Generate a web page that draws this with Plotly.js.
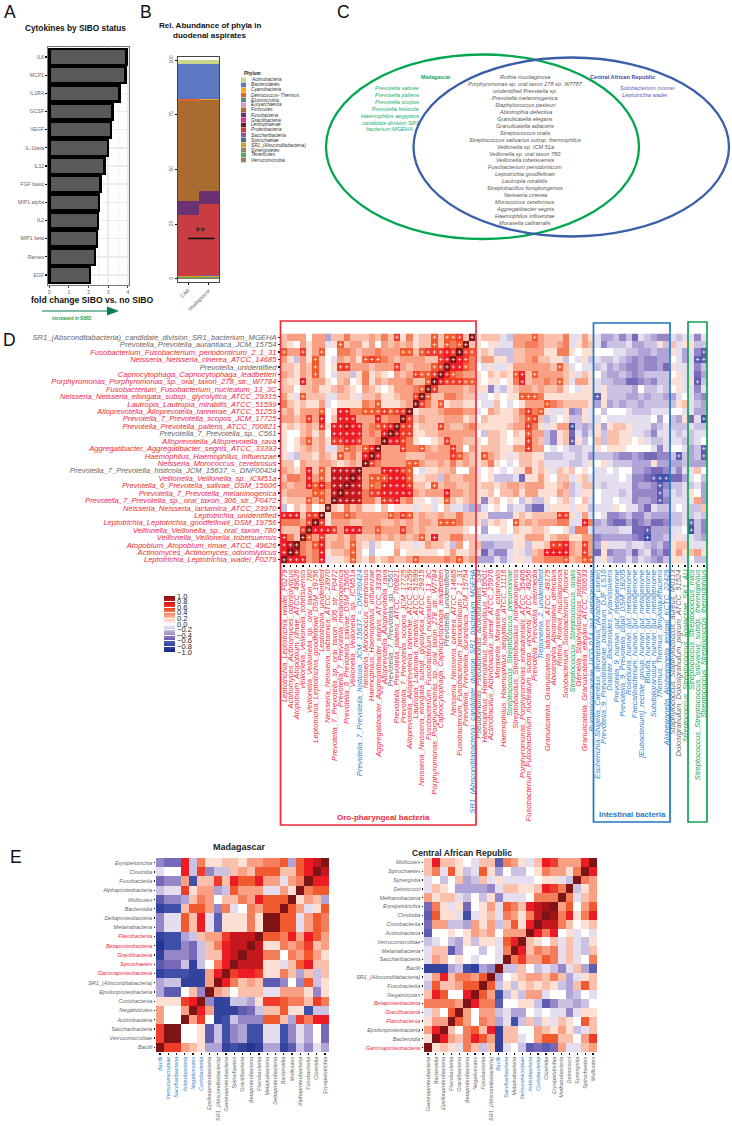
<!DOCTYPE html>
<html><head><meta charset="utf-8">
<script src="https://cdn.plot.ly/plotly-3.0.1.min.js"></script>
<style>html,body{margin:0;padding:0;background:#fff}#c{width:732px;height:1127px}</style></head>
<body><div id="c"></div>
<script>
// ---------- Panel A
const cytokines=['IL6','MCP1','IL1RA','GCSF','VEGF','IL-1beta','IL12','FGF basic','MIP1 alpha','IL2','MIP1 beta','Rantes','EGF'];
const foldChange=[3.93,3.88,3.58,3.22,3.15,3.0,2.82,2.6,2.53,2.47,2.42,2.33,2.08];
// ---------- Panel B
const phyla=['Actinobacteria','Bacteroidetes','Cyanobacteria','Deinococcus−Thermus','Elusimicrobia','Euryarchaeota','Firmicutes','Fusobacteria','Gracilibacteria','Lentisphaerae','Proteobacteria','Saccharibacteria','Spirochaetae','SR1_(Absconditabacteria)','Synergistetes','Tenericutes','Verrucomicrobia'];
const phylaColors=['#c9d68b','#5b79c2','#f7a823','#e8602a','#4c9080','#cf9fca','#a96b30','#6b3172','#e0338e','#6b2020','#c93c42','#7f5bb0','#4f6d92','#d9a227','#8a8a60','#55a860','#9a8060'];
const abundCAR=[2.0,15.9,0.1,0.6,0,0,45.6,6.6,0,0,27.7,0.2,0.1,0.2,0.3,0.3,0.4];
const abundMad=[1.8,16.2,0.1,0.1,0,0,41.7,6.0,0,0,32.5,0.2,0.1,0.2,0.3,0.3,0.5];
const siteNames=['CAR','Madagascar'];
// ---------- Panel C
const vennBoth=['Rothia mucilaginosa','Porphyromonas sp. oral taxon 278 str. W7787','unidentified Prevotella sp.','Prevotella melaninogenica','Staphylococcus pasteuri','Abiotrophia defectiva','Granulicatella elegans','Granulicatella adiacens','Streptococcus oralis','Streptococcus salivarius subsp. thermophilus','Veillonella sp. ICM 51a','Veillonella sp. oral taxon 780','Veillonella tobetsuensis','Fusobacterium periodonticum','Leptotrichia goodfellowii','Lautropia mirabilis','Streptobacillus hongkongensis','Neisseria cinerea','Morococcus cerebrosus','Aggregatibacter segnis','Haemophilus influenzae','Moraxella catharralis'];
const vennMad=['Prevotella salivae','Prevotella pallens','Prevotella scopos','Prevotella histicola','Haemophilus aegyptius','candidate division SR1','bacterium MGEHA'];
const vennCar=['Solobacterium moorei','Leptotrichia wadei'];
// ---------- Panel D
const rowLabelsD=['SR1_(Absconditabacteria)_candidate_division_SR1_bacterium_MGEHA','Prevotella_Prevotella_aurantiaca_JCM_15754','Fusobacterium_Fusobacterium_periodonticum_2_1_31','Neisseria_Neisseria_cinerea_ATCC_14685','Prevotella_unidentified','Capnocytophaga_Capnocytophaga_leadbetteri','Porphyromonas_Porphyromonas_sp._oral_taxon_278_str._W7784','Fusobacterium_Fusobacterium_nucleatum_13_3C','Neisseria_Neisseria_elongata_subsp._glycolytica_ATCC_29315','Lautropia_Lautropia_mirabilis_ATCC_51599','Alloprevotella_Alloprevotella_tannerae_ATCC_51259','Prevotella_7_Prevotella_scopos_JCM_17725','Prevotella_Prevotella_pallens_ATCC_700821','Prevotella_7_Prevotella_sp._C561','Alloprevotella_Alloprevotella_rava','Aggregatibacter_Aggregatibacter_segnis_ATCC_33393','Haemophilus_Haemophilus_influenzae','Neisseria_Morococcus_cerebrosus','Prevotella_7_Prevotella_histicola_JCM_15637_=_DNF00424','Veillonella_Veillonella_sp._ICM51a','Prevotella_6_Prevotella_salivae_DSM_15606','Prevotella_7_Prevotella_melaninogenica','Prevotella_7_Prevotella_sp._oral_taxon_306_str._F0472','Neisseria_Neisseria_lactamica_ATCC_23970','Leptotrichia_unidentified','Leptotrichia_Leptotrichia_goodfellowii_DSM_19756','Veillonella_Veillonella_sp._oral_taxon_780','Veillonella_Veillonella_tobetsuensis','Atopobium_Atopobium_rimae_ATCC_49626','Actinomyces_Actinomyces_odontolyticus','Leptotrichia_Leptotrichia_wadei_F0279'];
const rowGroupD=['k','k','r','r','k','r','r','r','r','r','r','r','r','k','r','r','r','r','k','r','r','r','r','r','r','r','r','r','r','r','r'];
const colLabelsExtra=['Pseudomonas_Pseudomonas_azotoformans_S34','Haemophilus_Haemophilus_haemolyticus_M19501','Actinobacillus_Actinobacillus_ureae_ATCC_25976','Moraxella_Moraxella_catarrhalis','Haemophilus_Haemophilus_aegyptius_ATCC_11116','Streptococcus_Streptococcus_pneumoniae','Streptobacillus_Streptobacillus_hongkongensis','Porphyromonas_Porphyromonas_endodontalis_ATCC_35406','Fusobacterium_Fusobacterium_nucleatum_subsp._vincentii_ATCC_49256','Prevotella_Prevotella_intermedia','Treponema_2_unidentified','Granulicatella_Granulicatella_adiacens_ATCC_49175','Abiotrophia_Abiotrophia_defectiva','Rothia_Rothia_mucilaginosa','Solobacterium_Solobacterium_moorei','Streptococcus_Streptococcus_oralis','Gemella_Staphylococcus_pasteuri','Granulicatella_Granulicatella_elegans_ATCC_700633','Ruminococcaceae_UCG-014_gut_metagenome','Escherichia-Shigella_Camelus_dromedarius_(Arabian_camel)','Prevotella_9_Prevotellaceae_bacterium_DJF_LS10','Dialister_Bacteroides_xylanisolvens','Prevotella_9_human_gut_metagenome','Prevotella_9_Prevotella_copri_DSM_18205','Roseburia_human_gut_metagenome','Faecalibacterium_human_gut_metagenome','[Eubacterium]_rectale_group_human_gut_metagenome','Blautia_human_gut_metagenome','Subdoligranulum_human_gut_metagenome','Thermus_Thermus_amyloliquefaciens','Alishewanella_Alishewanella_jeotgali_KCTC_22429','Staphylococcus_Staphylococcus_aureus_M0113','Dolosigranulum_Dolosigranulum_pigrum_ATCC_51524','Streptococcus_Streptococcus_agalactiae_SK1_AU','Streptococcus_Streptococcus_mitis','Streptococcus_Streptococcus_salivarius_subsp._thermophilus','Streptococcus_Streptococcus_thermophilus'];
const colGroupExtra=['k','r','r','r','r','g','r','r','r','r','b','r','r','r','r','g','r','r','b','b','b','b','b','b','b','b','b','b','b','b','b','k','k','g','g','g','g'];
const oralColGroup=['r','r','r','r','r','r','r','r','r','r','r','r','b','r','r','r','r','k','r','r','r','r','r','r','r','r','k','r','r','r','b'];
const heatOral=[
[2,3,3,3,0,3,3,-3,2,2,4,2,2,2,3,2,4,2,6,1,4,1,2,2,5,2,5,5,6,2,10],
[2,1,0,3,1,3,3,-1,1,5,2,3,3,1,3,0,3,2,3,2,3,1,2,2,5,2,5,4,5,10,2],
[5,3,3,6,1,3,5,0,0,4,4,3,2,3,3,4,3,3,3,5,5,2,5,6,6,6,7,6,10,6,5],
[3,1,-2,3,1,5,2,0,-1,3,2,3,1,5,6,5,4,3,2,3,3,3,3,2,2,6,7,10,7,6,4],
[2,2,1,3,2,5,2,0,1,6,6,3,3,3,2,3,3,3,6,3,2,3,3,3,5,6,10,7,7,5,4],
[3,2,1,3,2,5,2,0,-1,2,2,-2,1,4,1,2,1,0,3,2,3,6,5,5,6,10,7,5,4,3,3],
[2,1,1,7,2,3,3,1,0,2,3,0,1,4,1,3,2,3,3,3,4,2,2,5,10,7,6,6,6,5,5],
[2,2,0,2,2,3,1,1,2,3,2,1,0,3,2,1,0,1,3,3,3,4,5,10,6,3,3,3,3,2,3],
[3,1,-1,5,2,2,2,-1,-1,2,2,1,-1,2,2,3,1,1,2,3,3,6,10,5,2,2,4,4,3,2,2],
[4,2,1,2,1,1,3,-1,0,1,1,1,1,4,3,5,1,1,1,2,3,10,6,4,2,5,1,2,2,1,1],
[2,3,1,3,3,3,5,0,1,7,7,4,4,5,5,5,6,5,6,6,10,1,2,2,2,3,4,4,4,3,3],
[3,3,2,3,6,3,7,0,2,7,7,7,3,3,3,7,3,4,4,10,6,2,3,2,2,2,3,3,3,1,2],
[1,2,1,2,3,2,6,1,7,7,8,7,7,3,4,5,6,7,10,6,6,1,2,2,2,6,3,2,2,3,4],
[1,0,0,2,3,1,3,0,7,7,7,7,7,3,4,3,7,10,8,6,6,1,1,2,2,3,3,3,3,3,3],
[1,0,1,3,5,2,3,1,6,6,7,7,6,3,3,4,10,7,7,6,4,1,0,0,1,2,6,3,3,2,2],
[1,0,1,2,3,2,3,-1,-1,3,5,4,3,5,7,10,3,3,3,6,4,4,5,3,2,3,3,6,3,0,3],
[1,-1,-2,2,2,1,3,2,1,5,3,4,2,7,10,7,3,3,3,3,2,2,2,3,3,3,3,6,5,3,2],
[2,2,0,3,2,2,3,3,2,1,2,3,2,10,6,4,3,3,3,3,5,5,3,2,2,3,2,4,2,3,2],
[3,2,1,3,7,2,5,2,8,8,8,8,10,3,3,3,7,7,7,6,5,0,-1,1,1,2,2,3,0,0,3],
[2,4,4,3,7,3,5,2,8,8,8,10,8,3,5,5,5,7,7,7,5,1,1,2,2,-2,3,2,2,3,3],
[3,2,3,3,7,5,7,4,8,8,10,8,8,3,5,4,7,7,7,7,6,2,2,1,5,2,3,3,2,2,3],
[2,3,3,3,3,5,5,3,8,10,8,8,8,4,6,6,7,7,7,7,7,3,2,3,3,3,7,3,3,2,3],
[1,2,2,2,5,3,5,3,10,8,8,8,8,4,4,2,6,6,7,3,4,1,1,0,-1,1,5,2,1,2,3],
[-2,0,2,1,3,0,1,10,2,1,4,2,3,1,1,0,2,0,1,1,1,-1,1,1,-1,0,2,-1,-1,-2,-3],
[7,7,7,2,6,6,10,1,4,4,5,4,3,3,3,3,3,5,4,6,5,2,3,2,2,3,2,2,4,2,2],
[4,4,4,3,6,10,6,1,3,3,3,2,2,3,3,3,2,2,3,2,3,2,3,3,2,5,5,5,4,2,2],
[2,2,2,6,10,7,7,7,6,3,7,7,7,3,3,5,3,3,3,6,3,2,3,2,2,2,2,2,2,1,0],
[7,4,2,10,5,3,6,2,2,3,2,4,2,2,2,3,2,3,2,3,2,3,5,2,7,2,2,4,4,2,2],
[7,8,10,4,3,5,7,2,3,3,2,5,2,1,-2,1,0,0,2,1,1,-1,1,3,2,2,1,-2,3,0,2],
[7,10,8,4,3,4,7,1,2,2,3,5,2,0,-2,0,0,0,3,0,1,1,1,1,1,0,1,3,1,1,2],
[10,7,7,7,3,4,7,-1,1,1,2,5,2,1,3,1,2,3,2,2,3,5,3,3,3,3,4,3,5,2,3]];
const heatOther=[
[1,2,2,2,-1,-2,3,3,3,5,3,2,2,2,4,-1,-1,3,1,-1,-3,-3,-2,-4,-2,-5,-1,-2,-3,-4,-4,-1,-2,-1,-1,-4,-1],
[1,0,1,1,-1,-1,3,3,4,4,3,2,2,3,4,-1,1,3,2,-1,-4,-2,-2,-2,-1,-3,-3,-2,-2,1,-2,2,-1,1,1,-2,-2],
[1,2,1,-2,-2,-2,2,2,3,3,3,1,1,4,4,1,0,1,1,0,0,0,-1,-1,-2,-2,-3,-3,-2,-3,-3,1,-1,-3,-1,-4,-6],
[1,3,3,1,1,-2,2,2,3,4,2,2,1,1,-2,0,-1,1,-2,-1,-2,-2,-1,-2,-3,-4,-3,-4,-4,-3,-3,0,-1,-3,-1,-6,-6],
[0,-1,1,-1,-1,1,3,3,3,3,3,3,2,5,2,-1,0,-1,-1,-2,-1,-3,-2,-3,-4,-4,-3,-4,-4,-3,-5,1,-1,-1,-1,-4,-2],
[1,0,2,1,2,1,5,7,2,5,3,3,3,3,2,1,-1,2,1,0,-2,-3,-3,-2,-3,-4,-3,-2,-2,-2,-2,0,1,-1,-1,-5,-3],
[1,0,1,1,0,1,4,7,2,3,3,4,3,5,2,-1,3,3,1,-1,-2,-2,-3,-3,-5,-5,-4,-3,-4,-2,-2,1,1,-1,1,-6,-2],
[1,1,-4,-1,-2,1,2,3,3,2,3,2,2,3,1,0,-1,1,1,-1,1,-2,-2,-2,-2,-3,0,-2,-2,-1,-2,0,1,-1,-1,-4,-1],
[-1,-1,0,1,0,1,1,5,5,5,4,1,1,1,1,1,1,1,1,-6,1,-2,-2,-2,-3,-3,-2,-3,-2,-2,-3,-3,-1,0,-1,-3,-4],
[0,-1,-1,2,0,-1,0,1,3,3,3,5,4,3,2,2,2,2,1,-3,1,-3,-2,-3,-2,-2,-3,-2,-2,-2,-2,-2,1,2,-1,-2,-3],
[-1,0,3,2,1,1,2,4,6,4,5,1,-1,-1,1,-4,-3,1,-1,0,-2,0,0,0,-1,-2,-2,-2,-1,-1,-1,0,0,-1,-1,-3,-3],
[0,2,1,1,1,1,2,3,5,6,2,-2,-1,0,1,-2,-2,1,-1,-1,0,-1,-1,-1,-1,-1,-1,-1,0,-3,0,-2,-3,1,-5,-1,-7],
[1,1,1,1,1,2,3,3,6,4,1,-1,1,3,3,-7,-2,-3,-2,1,-3,1,2,2,1,-1,-1,-1,-3,-2,-1,-2,-2,-2,-1,-2,-2],
[0,-2,2,2,1,0,2,1,5,3,3,-2,-4,1,2,-5,-1,-3,-1,1,-2,2,2,1,1,-1,-1,-2,-4,-1,-1,-1,-2,-1,-2,-1,-1],
[1,0,2,2,1,0,1,1,6,3,2,-2,-4,1,2,-6,1,-2,0,2,-2,2,2,1,1,0,1,-1,-2,-2,-1,-1,-1,-2,-2,-1,0],
[1,2,2,2,1,1,3,3,6,3,3,0,-1,0,-1,-2,-2,-1,-1,1,0,1,1,1,0,0,0,0,-1,-4,-1,0,0,-1,-3,-2,-6],
[1,5,3,2,1,-1,1,2,2,1,1,-2,-2,-2,-1,-1,-2,-1,-3,-2,-2,-2,-3,-4,-4,-3,-4,-5,-5,-4,-4,-2,-6,-2,-3,-2,-6],
[1,2,4,1,0,-1,0,2,2,1,2,-1,-1,-1,-1,-2,-2,-1,1,0,1,-1,-2,-2,-2,-3,-3,-3,1,-3,-3,-3,-3,-2,-3,-3,-3],
[-1,0,1,0,-1,0,1,1,4,1,2,1,-1,2,1,2,0,1,0,-1,-1,0,-1,0,0,-3,-3,-4,-5,-5,-4,-2,-4,-1,-1,2,0],
[1,0,1,-2,-2,-2,-1,-5,1,1,3,1,0,2,2,-1,1,2,-1,-1,-1,-1,-1,0,-1,-4,-4,-5,-6,-7,-7,-5,-5,-3,-1,0,-2],
[1,2,2,1,2,3,3,2,3,3,3,1,1,2,3,-2,-1,2,2,-1,-2,-1,-1,-1,-1,-4,-3,-3,-4,-6,-4,-2,-2,-1,-2,-1,-3],
[1,1,2,0,2,2,3,1,3,3,1,1,1,3,2,-2,-1,1,1,0,-1,-1,-1,-2,-1,-4,-4,-4,-4,-6,-3,-1,-2,-1,1,0,-3],
[1,-4,1,2,0,1,0,-2,1,-2,-2,1,0,1,2,-1,0,2,-1,0,-1,-1,0,-1,-1,-4,-3,-3,-4,-6,-4,-1,-1,-1,-1,3,-3],
[-3,-1,0,1,0,-2,-1,-1,-3,-5,-5,-1,1,1,1,-1,1,1,-2,-1,-1,-1,1,0,-1,-1,-3,-5,-1,-2,-2,-1,0,-1,-2,-2,2],
[1,1,-3,-3,-3,-3,1,2,1,2,2,2,2,6,6,1,-1,3,-1,0,-1,-4,-4,-3,-2,-4,-4,-2,-3,-3,-3,-2,-2,-1,-2,-1,-2],
[1,-2,1,2,1,0,5,2,3,2,3,3,3,4,4,-1,-1,7,4,-3,-2,-4,-5,-5,-3,-5,-4,-3,-5,-5,-4,-2,-2,-1,-6,-2,-4],
[0,-3,0,0,1,0,2,1,1,2,2,1,0,0,1,-2,4,4,-1,-2,-2,-2,-2,-1,-1,-5,-5,-6,-3,-3,-3,-1,-1,0,-7,-2,-4],
[-1,-1,-1,-1,-1,-1,1,1,3,3,3,1,2,3,3,1,1,3,3,-4,-3,-3,-3,-3,-3,-4,-5,-7,-3,-3,-2,-1,1,-1,-1,-2,-3],
[2,-3,-3,-2,-2,-2,1,1,-2,1,1,2,6,6,7,3,2,6,3,-3,1,-1,-1,-1,-2,-1,-1,-2,-3,-2,-4,1,2,2,-1,-1,-1],
[1,-5,-2,-4,-4,-1,1,-1,-2,2,3,7,7,7,7,3,2,6,3,-5,1,-4,-3,-3,-2,-5,-2,-1,-4,-3,-5,1,3,1,2,3,1],
[-3,-3,-3,-1,-3,-1,1,1,-1,3,3,4,4,4,5,2,3,5,5,-1,1,-2,-3,-3,-1,-3,-1,-2,-3,-4,-2,1,1,-1,0,-2,-2]];
// ---------- Panel E
const madRows=['Erysipelotrichia','Clostridia','Fusobacteriia','Alphaproteobacteria','Mollicutes','Bacteroidia','Deltaproteobacteria','Melainabacteria','Flavobacteriia','Betaproteobacteria','Gracilibacteria','Spirochaetes','Gammaproteobacteria','SR1_(Absconditabacteria)','Epsilonproteobacteria','Coriobacteriia','Negativicutes','Actinobacteria','Saccharibacteria','Verrucomicrobiae','Bacilli'];
const madRed=['Flavobacteriia','Betaproteobacteria','Gracilibacteria','Spirochaetes','Gammaproteobacteria'];
const madBlue=['Bacilli','Verrucomicrobiae','Saccharibacteria','Actinobacteria','Negativicutes','Coriobacteriia'];
const heatMad=[
[-4,-5,-5,7,-2,4,1,1,2,2,1,3,3,4,4,5,-3,5,7,8,10],
[-1,0,0,7,-2,6,-4,-2,-2,2,3,2,5,5,5,2,2,5,7,10,8],
[-5,-4,-4,3,-7,2,2,6,2,7,5,5,7,3,3,-1,3,4,10,7,7],
[-2,-1,-1,6,1,3,3,-3,-2,5,3,3,3,-1,-1,3,1,10,4,5,5],
[-6,-4,-4,-3,2,4,3,0,2,2,4,3,7,5,5,5,10,1,3,2,-3],
[-8,-7,-7,2,5,5,3,-4,4,-1,0,4,3,5,5,10,5,3,-1,1,5],
[-4,-1,-1,5,2,7,-1,-6,1,1,1,4,1,10,10,5,5,-1,3,5,4],
[-4,-1,-1,5,2,7,-1,-6,1,1,1,4,1,10,10,5,5,-1,3,5,4],
[-8,-7,-7,-3,-2,2,3,3,6,8,8,8,10,5,5,4,7,3,7,5,3],
[-9,-7,-7,-4,-5,-2,2,4,7,8,8,10,8,1,1,4,3,4,6,2,3],
[-8,-4,-4,-4,-5,-2,2,2,7,8,10,8,8,4,4,0,4,3,5,3,1],
[-6,-5,-5,-2,-8,-2,0,4,7,10,8,8,8,1,1,-1,2,5,7,2,2],
[-8,-7,-7,-7,-8,-8,3,7,10,6,7,7,6,1,1,4,2,-3,2,-2,2],
[-3,-2,-2,-8,-8,-8,3,10,7,4,2,3,2,-6,-6,-4,0,-4,5,-2,1],
[-3,-6,-6,0,2,-4,10,3,2,0,2,2,2,-1,-1,3,3,3,1,-4,1],
[1,1,1,6,7,10,-4,-8,-8,-2,-2,-3,1,6,6,5,4,4,2,6,4],
[3,0,0,3,10,7,3,-8,-8,-8,-6,-5,-2,2,2,5,1,1,-7,-2,-2],
[3,0,0,10,3,6,0,-8,-7,-2,-4,-4,-4,5,5,2,-3,6,4,7,7],
[6,10,10,0,0,1,-6,-2,-7,-4,-3,-7,-7,-1,-1,-7,-4,-1,-3,0,-5],
[6,10,10,0,0,1,-6,-2,-7,-4,-3,-7,-7,-1,-1,-7,-4,-1,-3,0,-5],
[10,6,6,3,2,1,-3,-3,-8,-7,-8,-9,-8,-3,-3,-8,-6,-2,-4,-1,-3]];
const carRows=['Mollicutes','Spirochaetes','Synergistia','Deinococci','Methanobacteria','Erysipelotrichia','Clostridia','Coriobacteriia','Actinobacteria','Verrucomicrobiae','Melainabacteria','Saccharibacteria','Bacilli','SR1_(Absconditabacteria)','Fusobacteriia','Negativicutes','Betaproteobacteria','Gracilibacteria','Flavobacteriia','Epsilonproteobacteria','Bacteroidia','Gammaproteobacteria'];
const carCols=['Gammaproteobacteria','Bacteroidia','Epsilonproteobacteria','Flavobacteriia','Gracilibacteria','Betaproteobacteria','Negativicutes','Fusobacteriia','SR1_(Absconditabacteria)','Bacilli','Saccharibacteria','Melainabacteria','Verrucomicrobiae','Actinobacteria','Coriobacteriia','Clostridia','Erysipelotrichia','Methanobacteria','Deinococci','Synergistia','Spirochaetes','Mollicutes'];
const carRed=['Betaproteobacteria','Gracilibacteria','Flavobacteriia','Gammaproteobacteria'];
const carBlue=['Bacilli','Saccharibacteria','Verrucomicrobiae','Actinobacteria','Coriobacteriia'];
const heatCar=[
[2,7,2,2,1,0,-1,2,2,-6,4,3,1,-1,2,7,6,3,3,3,7,10],
[2,4,-1,5,1,-2,-1,5,1,-3,0,-2,-2,0,1,4,3,3,1,4,10,7],
[-1,0,-2,0,2,-3,-2,2,-1,1,-1,-1,-1,-1,0,1,1,-1,-2,10,4,3],
[-1,2,1,0,-3,-3,-3,-3,-4,-1,2,2,1,1,2,7,6,4,10,-2,1,3],
[3,1,2,2,-1,-2,0,-2,1,-4,-1,-1,-1,0,4,4,4,10,4,-1,2,3],
[-5,4,1,-1,1,-5,0,1,3,-1,5,4,2,7,8,9,10,3,5,0,3,5],
[-6,5,1,1,-1,-7,-1,1,2,-1,4,3,1,4,8,10,9,4,7,1,4,7],
[-5,3,3,-2,-2,-3,3,1,3,-2,2,5,1,7,10,8,8,4,2,0,1,2],
[-6,0,0,1,0,1,3,2,3,0,3,3,3,10,7,4,7,0,1,-1,0,-1],
[-2,-1,0,-2,-3,1,-2,1,1,-1,5,7,10,2,1,0,2,-1,2,-1,-2,1],
[-1,2,2,-6,-3,0,0,-2,0,-1,4,10,7,2,4,3,4,-1,2,-1,-2,2],
[-1,3,2,0,1,0,-1,0,0,-1,10,4,6,3,3,5,4,-1,2,-1,0,4],
[-8,-8,-8,-3,-2,-7,-8,-3,-4,10,-2,-2,2,0,-2,-1,-2,-4,-1,2,-3,-6],
[-1,3,7,2,4,4,3,5,10,-3,0,1,2,3,3,2,4,2,-3,-1,1,2],
[-2,5,2,2,3,5,5,10,5,-2,1,-2,1,2,1,2,1,-2,-3,2,5,2],
[2,7,5,0,0,7,10,5,3,-7,-2,1,-2,3,3,-1,0,0,-3,-2,0,-1],
[4,4,4,4,3,10,7,4,4,-6,0,0,1,1,-2,-6,-4,-2,-2,-3,-2,0],
[-1,2,0,5,10,3,0,3,3,-2,-1,-3,-3,0,-1,0,-1,-1,-4,-1,1,1],
[1,3,3,10,5,3,0,4,3,-3,-1,-7,-2,2,-2,1,-1,2,1,0,5,2],
[3,7,10,2,0,4,5,2,7,-8,2,2,0,0,3,2,1,3,1,-2,-1,2],
[1,10,7,3,2,4,7,5,3,-8,2,2,-1,0,3,5,5,2,2,0,3,6],
[10,1,2,1,-1,4,2,-2,2,-8,-1,0,-2,-6,-5,-6,-5,3,-1,-1,2,3]];
const corrTicks=[1,0.8,0.6,0.4,0.2,0,-0.2,-0.4,-0.6,-0.8,-1];

// ---------- helpers (page pixels to paper fractions)
const W=732,H=1127,FF='"Liberation Sans",Arial,sans-serif';
const RED='#ee2a3c',BLUE='#2f7fc8',GREEN='#12a350',GRAY='#666';
const px=x=>x/W, py=y=>1-y/H;
const dom=(a,b)=>[a/W,b/W], domY=(t,b)=>[1-b/H,1-t/H];
const tint={r:RED,b:BLUE,g:GREEN,k:GRAY};
const paint=(s,c)=>'<span style="color:'+c+'">'+s+'</span>';
const range=n=>Array.from({length:n},(_,i)=>i);
const annotations=[],shapes=[];
function txt(x,y,text,size,color,o){o=o||{};annotations.push({xref:'paper',yref:'paper',x:px(x),y:py(y),text:text,showarrow:false,
  xanchor:o.a||'center',yanchor:'middle',borderpad:0,
  font:{family:FF,size:size,color:color,style:o.i?'italic':'normal',weight:o.b?'bold':'normal'}});}
function box(x0,y0,x1,y1,color,w,fill){shapes.push({type:'rect',xref:'paper',yref:'paper',x0:px(x0),x1:px(x1),y0:py(y0),y1:py(y1),
  line:{color:color,width:w},fillcolor:fill||'rgba(0,0,0,0)',layer:'above'});}
function oval(x0,y0,x1,y1,color,w){shapes.push({type:'circle',xref:'paper',yref:'paper',x0:px(x0),x1:px(x1),y0:py(y0),y1:py(y1),line:{color:color,width:w}});}

const colorscale=[[0,'#1c2584'],[0.15,'#3f50a8'],[0.25,'#7868b8'],[0.35,'#b0a4d6'],[0.45,'#e4deef'],[0.5,'#ffffff'],[0.55,'#fde0d3'],[0.65,'#f9a084'],[0.75,'#f15a2e'],[0.85,'#ed1c24'],[0.92,'#b5161c'],[1,'#7f1416']];
const tr=[];
// Panel A
tr.push({type:'bar',orientation:'h',x:foldChange,y:range(13),width:0.88,xaxis:'x',yaxis:'y',marker:{color:'#595959',line:{color:'#000',width:2.4}},showlegend:false});
// Panel B (ggplot stacks the first level on top)
for(let i=phyla.length-1;i>=0;i--){tr.push({type:'bar',x:[0,1],y:[abundCAR[i],abundMad[i]],width:1,xaxis:'x2',yaxis:'y2',name:phyla[i],marker:{color:phylaColors[i],line:{width:0}},showlegend:false});}
// Heatmaps
function heat(rows,xa,ya){const z=rows.map(r=>r.map(v=>v/10));return {type:'heatmap',z:z,x:range(z[0].length),y:range(z.length),xaxis:xa,yaxis:ya,coloraxis:'coloraxis',xgap:0,ygap:0,hoverinfo:'skip'};}
const heatD=heatOral.map((r,i)=>r.concat(heatOther[i]));
tr.push(heat(heatD,'x3','y3'));
const sx=[],sy=[];heatD.forEach((r,i)=>r.forEach((v,j)=>{if(v>=5||v<=-6){sx.push(j);sy.push(i);}}));
tr.push({type:'scatter',mode:'markers',x:sx,y:sy,xaxis:'x3',yaxis:'y3',showlegend:false,hoverinfo:'skip',marker:{symbol:'cross-thin',size:2.6,line:{color:'rgba(255,255,255,0.9)',width:0.7}}});
tr.push(heat(heatMad,'x4','y4'));
tr.push(heat(heatCar,'x5','y5'));

const baseAxis={zeroline:false,showgrid:false,ticks:'outside',tickcolor:'#111'};
const fnt=(s,c,i)=>({family:FF,size:s,color:c||GRAY,style:i?'italic':'normal'});
function catAxis(d,labels,angle,size,len,rng){return Object.assign({},baseAxis,{domain:d,range:rng,tickmode:'array',tickvals:range(labels.length),ticktext:labels,tickangle:angle,tickfont:fnt(size,GRAY,true),ticklen:len,tickwidth:1.3});}

const colLabelsD=rowLabelsD.slice().reverse().concat(colLabelsExtra);
const colGroupsD=oralColGroup.concat(colGroupExtra);
const madCols=madRows.slice().reverse();
const colTag=(s,red,blue)=>red.includes(s)?paint(s,RED):blue.includes(s)?paint(s,BLUE):s;

const layout={width:W,height:H,margin:{l:0,r:0,t:0,b:0,pad:0},paper_bgcolor:'#fff',plot_bgcolor:'#fff',barmode:'stack',showlegend:false,font:{family:FF},
 coloraxis:{cmin:-1,cmax:1,colorscale:colorscale,colorbar:{x:px(164),xanchor:'left',xpad:0,y:py(596),yanchor:'top',ypad:0,lenmode:'pixels',len:56,thicknessmode:'pixels',thickness:11,
   tickmode:'array',tickvals:corrTicks,ticktext:corrTicks.map(v=>(v<0?'−':'')+Math.abs(v).toFixed(1)),ticks:'inside',ticklen:11,tickcolor:'#fff',tickwidth:1,outlinewidth:0,tickfont:{family:FF,size:7.5,color:'#222'}}},
 xaxis:{domain:dom(48,129),range:[-0.07,4.06],zeroline:false,tickvals:[0,1,2,3,4],tickfont:fnt(5),ticks:'outside',ticklen:1.5,tickcolor:'#444',showgrid:true,gridcolor:'#ebebeb',gridwidth:1.6,showline:true,mirror:true,linecolor:'#777',linewidth:1.2,minor:{dtick:0.5,showgrid:true,gridcolor:'#f1f1f1',gridwidth:1}},
 yaxis:{domain:domY(47,285),anchor:'x',range:[12.55,-0.55],zeroline:false,tickmode:'array',tickvals:range(13),ticktext:cytokines,tickfont:fnt(5.2),ticks:'outside',ticklen:1.5,tickcolor:'#111',tickwidth:1.2,showgrid:true,gridcolor:'#ebebeb',gridwidth:1.6,showline:true,mirror:true,linecolor:'#777',linewidth:1.2},
 xaxis2:{domain:dom(178,219),anchor:'y2',range:[-0.5,1.5],zeroline:false,tickmode:'array',tickvals:[0,1],ticktext:siteNames,tickangle:-45,tickfont:fnt(5.2),ticks:'outside',ticklen:2,tickcolor:'#111',tickwidth:1.3,showline:true,mirror:true,linecolor:'#444',linewidth:1.3},
 yaxis2:{domain:domY(57,282),anchor:'x2',range:[-1.4,101.4],zeroline:false,tickvals:[0,25,50,75,100],tickangle:-90,tickfont:fnt(5),ticks:'outside',ticklen:2,tickcolor:'#111',showgrid:false,showline:true,mirror:true,linecolor:'#444',linewidth:1.3},
 xaxis3:Object.assign(catAxis(dom(281,707),colLabelsD.map((s,i)=>paint(s,tint[colGroupsD[i]])),-90,7.6,2,[-0.5,67.5]),{anchor:'y3'}),
 yaxis3:Object.assign(catAxis(domY(333.5,563.5),rowLabelsD.map((s,i)=>paint(s,tint[rowGroupD[i]])),0,7.6,2,[30.5,-0.5]),{anchor:'x3'}),
 xaxis4:Object.assign(catAxis(dom(156,329),madCols.map(s=>colTag(s,[],madBlue)),-90,5.5,1.5,[-0.5,20.5]),{anchor:'y4'}),
 yaxis4:Object.assign(catAxis(domY(858,1052),madRows.map(s=>colTag(s,madRed,[])),0,5.5,1.5,[20.5,-0.5]),{anchor:'x4'}),
 xaxis5:Object.assign(catAxis(dom(424,597),carCols.map(s=>colTag(s,[],carBlue)),-90,5.5,1.5,[-0.5,21.5]),{anchor:'y5'}),
 yaxis5:Object.assign(catAxis(domY(858,1052),carRows.map(s=>colTag(s,carRed,[])),0,5.5,1.5,[21.5,-0.5]),{anchor:'x5'}),
 annotations:annotations,shapes:shapes};

// panel letters
txt(3,12,'A',17.5,'#111',{a:'left'});txt(139,12,'B',17.5,'#111',{a:'left'});txt(336,12,'C',17.5,'#111',{a:'left'});txt(2,340,'D',17.5,'#111',{a:'left'});txt(9,857,'E',17.5,'#111',{a:'left'});
// A text
txt(75,28,'Cytokines by SIBO status',8.3,'#111',{b:1});
txt(92,300,'fold change SIBO vs. no SIBO',8.6,'#111',{b:1});
txt(72,318,'increased in SIBO',4.6,GREEN,{b:1});
shapes.push({type:'line',xref:'paper',yref:'paper',x0:px(42),x1:px(110),y0:py(311),y1:py(311),line:{color:'#0a7d4c',width:1.2}});
shapes.push({type:'path',xref:'paper',yref:'paper',path:'M '+px(107)+' '+py(306.5)+' L '+px(119)+' '+py(311)+' L '+px(107)+' '+py(315.5)+' Z',fillcolor:'#0a7d4c',line:{width:0}});
// B text
txt(210,25,'Rel. Abundance of phyla in',8,'#111',{b:1});txt(209,35.5,'duodenal aspirates',8,'#111',{b:1});
txt(243,73,'Phylum',4.6,'#222',{a:'left',b:1});
phyla.forEach((p,i)=>{const y=80+i*5;box(241,y-2.3,246,y+2.3,phylaColors[i],0,phylaColors[i]);txt(250,y,p,4.7,'#333',{a:'left',i:1});});
annotations.push({xref:'x2',yref:'y2',x:0.55,y:20,text:'**',showarrow:false,yshift:4,font:{family:FF,size:13,color:'#222'}});
shapes.push({type:'line',xref:'x2',yref:'y2',x0:0,x1:1.28,y0:18.5,y1:18.5,line:{color:'#111',width:1.6}});
// C
oval(326,54.5,639,239,'#00a651',2.3);oval(413.5,57.5,729,236.5,'#3a5fa8',2.3);
vennBoth.forEach((s,i)=>txt(525,77.3+i*6.93,s,5.6,'#555',{i:1}));
txt(435,77,'Madagascar',5.1,'#0fa35a',{b:1});
vennMad.forEach((s,i)=>txt(i==6?414:419.5,88+i*6.9,s,5.6,'#22ad6a',{a:'right',i:1}));
txt(622.5,77,'Central African Republic',5.6,'#3c4fa5',{b:1});
vennCar.forEach((s,i)=>txt(i?645:647,88+i*7,s,5.6,'#5460b5',{i:1}));
// D boxes
box(280.5,321,476,825,RED,1.7);box(593.5,323,670,822,'#1f78c4',1.7);box(688,322,707,822,'#12a350',1.7);
txt(383,817,'Oro-pharyngeal bacteria',8,RED,{b:1});txt(632,814,'Intestinal bacteria',7.8,'#1f78c4',{b:1});
// E titles
txt(240,847,'Madagascar',9,'#222',{b:1});txt(462,853,'Central African Republic',8.6,'#222',{b:1});

Plotly.newPlot('c',tr,layout,{staticPlot:true,displayModeBar:false});
</script></body></html>
